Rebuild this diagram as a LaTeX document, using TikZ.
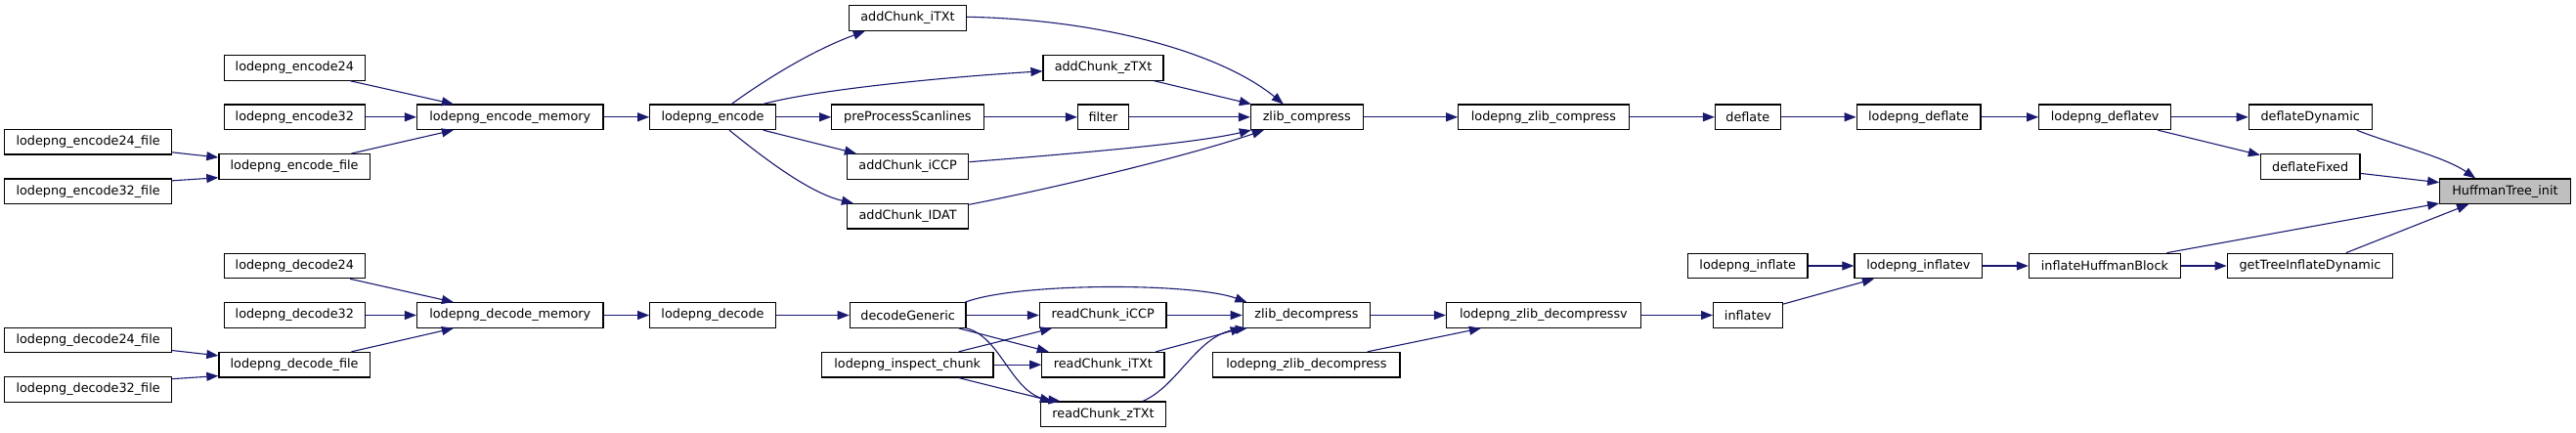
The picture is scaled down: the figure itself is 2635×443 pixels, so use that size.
\documentclass[tikz,border=0pt]{standalone}
\usepackage{fontspec}
\setmainfont{DejaVu Sans}
\usetikzlibrary{arrows.meta,calc}
\definecolor{edgeblue}{HTML}{191970}
\definecolor{hlgray}{HTML}{BFBFBF}
\tikzset{
  box/.style={draw=black, line width=1.2pt, fill=white, inner sep=0pt, minimum height=25.5pt,
    font=\fontsize{12.8}{15}\selectfont, text=black},
  hl/.style={box, fill=hlgray},
  edge/.style={draw=edgeblue, line width=1.1pt, -{Triangle[length=12pt,width=9pt]}},
}
\begin{document}
\begin{tikzpicture}[x=1pt,y=-1pt]
\useasboundingbox (0,0) rectangle (2635,443);
% ---------- encode section ----------
\node[box, minimum width=143.5] (e24) at (301.35,69.4) {lodepng\_encode24};
\node[box, minimum width=143.5] (e32) at (301.35,119.8) {lodepng\_encode32};
\node[box, minimum width=171] (e24f) at (90.1,145.2) {lodepng\_encode24\_file};
\node[box, minimum width=171] (e32f) at (90.1,195.7) {lodepng\_encode32\_file};
\node[box, minimum width=154.4] (ef) at (301.1,170.4) {lodepng\_encode\_file};
\node[box, minimum width=190.5] (em) at (521.75,119.8) {lodepng\_encode\_memory};
\node[box, minimum width=128.6] (enc) at (729,119.8) {lodepng\_encode};
\node[box, minimum width=120.2] (itxt) at (928.5,18.5) {addChunk\_iTXt};
\node[box, minimum width=123] (ztxt) at (1128.5,69.4) {addChunk\_zTXt};
\node[box, minimum width=155.4] (pps) at (928.4,119.8) {preProcessScanlines};
\node[box, minimum width=124.2] (iccp) at (928.6,170.4) {addChunk\_iCCP};
\node[box, minimum width=124.2] (idat) at (928.6,221.3) {addChunk\_IDAT};
\node[box, minimum width=52] (filt) at (1128.5,119.8) {filter};
\node[box, minimum width=114.7] (zc) at (1336.75,119.8) {zlib\_compress};
\node[box, minimum width=174.5] (lzc) at (1578.95,119.8) {lodepng\_zlib\_compress};
\node[box, minimum width=66.6] (defl) at (1787.8,119.8) {deflate};
\node[box, minimum width=126.8] (ldefl) at (1962.6,119.8) {lodepng\_deflate};
\node[box, minimum width=134.9] (ldeflv) at (2153.15,119.8) {lodepng\_deflatev};
\node[box, minimum width=125.8] (ddyn) at (2363.2,119.8) {deflateDynamic};
\node[box, minimum width=101.6] (dfix) at (2363.2,170.4) {deflateFixed};
\node[hl, minimum width=133.5] (huff) at (2562.45,195.7) {HuffmanTree\_init};
% ---------- decode section ----------
\node[box, minimum width=143.5] (d24) at (301.35,272) {lodepng\_decode24};
\node[box, minimum width=143.5] (d32) at (301.35,322.5) {lodepng\_decode32};
\node[box, minimum width=171] (d24f) at (90.1,347.9) {lodepng\_decode24\_file};
\node[box, minimum width=171] (d32f) at (90.1,398.5) {lodepng\_decode32\_file};
\node[box, minimum width=154.4] (df) at (301.1,373.2) {lodepng\_decode\_file};
\node[box, minimum width=190.5] (dm) at (521.75,322.5) {lodepng\_decode\_memory};
\node[box, minimum width=128.6] (dec) at (729,322.5) {lodepng\_decode};
\node[box, minimum width=118.7] (dg) at (928.65,322.5) {decodeGeneric};
\node[box, minimum width=129.6] (rci) at (1128.2,322.5) {readChunk\_iCCP};
\node[box, minimum width=175.5] (insp) at (928.25,373.2) {lodepng\_inspect\_chunk};
\node[box, minimum width=125.2] (rct) at (1128.4,373.2) {readChunk\_iTXt};
\node[box, minimum width=128] (rcz) at (1128.5,423.7) {readChunk\_zTXt};
\node[box, minimum width=130.3] (zd) at (1336.45,322.5) {zlib\_decompress};
\node[box, minimum width=191.2] (lzd) at (1336.4,373.2) {lodepng\_zlib\_decompress};
\node[box, minimum width=198.8] (lzdv) at (1578.9,322.5) {lodepng\_zlib\_decompressv};
\node[box, minimum width=70.7] (infv) at (1787.95,322.5) {inflatev};
\node[box, minimum width=122.5] (linf) at (1787.75,272) {lodepng\_inflate};
\node[box, minimum width=130.7] (linfv) at (1962.35,272) {lodepng\_inflatev};
\node[box, minimum width=155.1] (ihb) at (2152.95,272) {inflateHuffmanBlock};
\node[box, minimum width=169.6] (gtid) at (2363,272) {getTreeInflateDynamic};
% ---------- encode edges ----------
\draw[edge] ($(e24.south east)+(-15.5,0)$) -- ($(em.north west)+(38,0)$);
\draw[edge] (e32.east) -- (em.west);
\draw[edge] ($(ef.north east)+(-19.5,0)$) -- ($(em.south west)+(38,0)$);
\draw[edge] ($(e24f.south east)+(0,-2.7)$) -- ($(ef.north west)+(0,4)$);
\draw[edge] ($(e32f.north east)+(0,2.5)$) -- ($(ef.south west)+(0,-2)$);
\draw[edge] (em.east) -- (enc.west);
\draw[edge] ($(enc.north)+(19.3,0)$) .. controls (782,82) and (830,52) .. ($(itxt.south west)+(17,0)$);
\draw[edge] ($(enc.north east)+(-13.3,0)$) .. controls (830,93) and (950,80) .. ($(ztxt.west)+(0,3.4)$);
\draw[edge] (enc.east) -- (pps.west);
\draw[edge] ($(enc.south east)+(-13.3,0)$) -- ($(iccp.north west)+(10,0)$);
\draw[edge] ($(enc.south)+(17,0)$) .. controls (785,165) and (830,198) .. ($(idat.north west)+(7,0)$);
\draw[edge] (pps.east) -- (filt.west);
\draw[edge] (filt.east) -- (zc.west);
\draw[edge] ($(itxt.east)+(0,-1.2)$) .. controls (1130,20) and (1250,55) .. ($(zc.north west)+(34,0)$);
\draw[edge] ($(ztxt.south east)+(-10,0)$) -- ($(zc.north west)+(1,0)$);
\draw[edge] ($(iccp.east)+(0,-4.7)$) .. controls (1100,157) and (1220,147) .. ($(zc.south west)+(1,0)$);
\draw[edge] ($(idat.east)+(0,-12)$) .. controls (1090,190) and (1220,158) .. ($(zc.south west)+(14,0)$);
\draw[edge] (zc.east) -- (lzc.west);
\draw[edge] (lzc.east) -- (defl.west);
\draw[edge] (defl.east) -- (ldefl.west);
\draw[edge] (ldefl.east) -- (ldeflv.west);
\draw[edge] (ldeflv.east) -- (ddyn.west);
\draw[edge] ($(ldeflv.south east)+(-14,0)$) -- ($(dfix.north west)+(0,1.6)$);
\draw[edge] ($(ddyn.south east)+(-16,0)$) .. controls (2445,147) and (2500,160) .. ($(huff.north west)+(37,0)$);
\draw[edge] ($(dfix.east)+(0,7)$) -- ($(huff.west)+(0,-9)$);
\draw[edge] ($(ihb.north east)+(-14.7,0)$) -- ($(huff.south west)+(0,-1)$);
\draw[edge] ($(gtid.north east)+(-48.6,0)$) -- ($(huff.south west)+(30,0)$);
% ---------- decode edges ----------
\draw[edge] ($(d24.south east)+(-15.5,0)$) -- ($(dm.north west)+(38,0)$);
\draw[edge] (d32.east) -- (dm.west);
\draw[edge] ($(df.north east)+(-19.5,0)$) -- ($(dm.south west)+(38,0)$);
\draw[edge] ($(d24f.south east)+(0,-2.7)$) -- ($(df.north west)+(0,4)$);
\draw[edge] ($(d32f.north east)+(0,2.5)$) -- ($(df.south west)+(0,-2)$);
\draw[edge] (dm.east) -- (dec.west);
\draw[edge] (dec.east) -- (dg.west);
\draw[edge] ($(dg.north east)+(-1.3,0)$) .. controls (1040,289) and (1220,289) .. ($(zd.north west)+(4.7,0)$);
\draw[edge] (dg.east) -- (rci.west);
\draw[edge] ($(dg.south east)+(-8,0)$) -- ($(rct.north west)+(7.5,0)$);
\draw[edge] ($(dg.south east)+(0,0)$) .. controls (1025,345) and (1035,405) .. ($(rcz.north west)+(20.5,0)$);
\draw[edge] ($(insp.north east)+(-36,0)$) -- ($(rci.south west)+(13.3,0)$);
\draw[edge] (insp.east) -- (rct.west);
\draw[edge] ($(insp.south east)+(-36,0)$) -- ($(rcz.north west)+(12,0)$);
\draw[edge] (rci.east) -- (zd.west);
\draw[edge] ($(rct.north east)+(-9.3,0)$) .. controls (1215,351) and (1245,343) .. ($(zd.south west)+(0,-0.5)$);
\draw[edge] ($(rcz.north east)+(-24,0)$) .. controls (1205,395) and (1225,342) .. ($(zd.south west)+(5,0)$);
\draw[edge] (zd.east) -- (lzdv.west);
\draw[edge] ($(lzd.north east)+(-34,0)$) -- ($(lzdv.south west)+(36,0)$);
\draw[edge] (lzdv.east) -- (infv.west);
\draw[edge] (linf.east) -- (linfv.west);
\draw[edge] ($(infv.north east)+(0,2)$) -- ($(linfv.south west)+(20.5,0)$);
\draw[edge] (linfv.east) -- (ihb.west);
\draw[edge] (ihb.east) -- (gtid.west);
\end{tikzpicture}
\end{document}
